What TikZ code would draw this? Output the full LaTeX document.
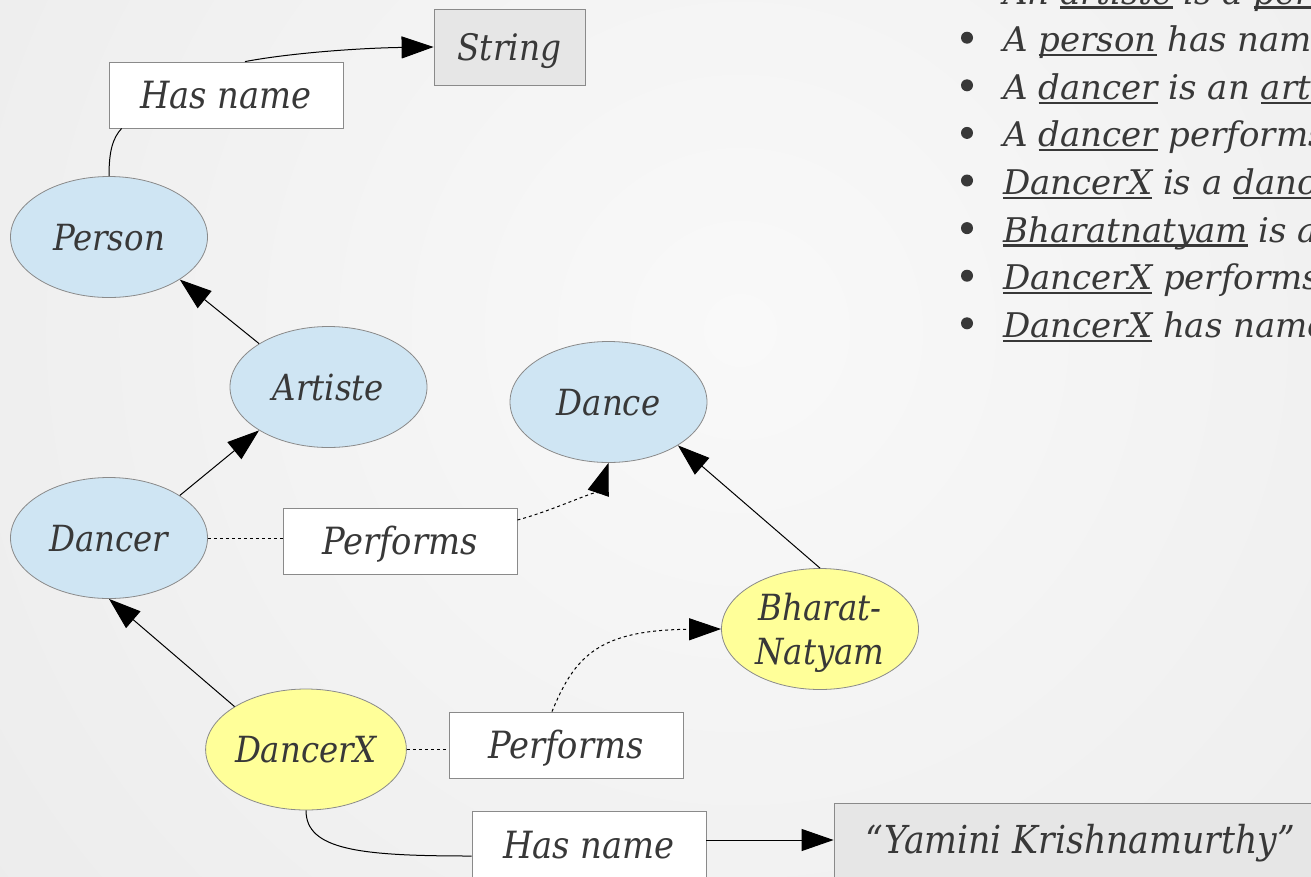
\documentclass[tikz,border=0pt]{standalone}
\usepackage{fontspec}
\usetikzlibrary{shapes.geometric,arrows.meta}
\setmainfont{DejaVu Serif}
\newfontfamily\graphfont{DejaVu Serif Condensed}
\definecolor{txt}{HTML}{383838}
\definecolor{clsblue}{HTML}{CFE5F3}
\definecolor{instyellow}{HTML}{FFFF99}
\definecolor{litgray}{HTML}{E6E6E6}
\definecolor{edgegray}{HTML}{8A8A8A}
\definecolor{bginner}{HTML}{F9F9F9}
\definecolor{bgouter}{HTML}{ECECEC}
% underline for the highlighted words of the bullet list
\newcommand\ulword[1]{\leavevmode\setbox0=\hbox{#1}\rlap{\color{txt}\rule[-4.5pt]{\wd0}{2.2pt}}\box0\relax}
\tikzset{
  gfont/.style={font=\graphfont\itshape\fontsize{#1}{44}\selectfont, text=txt},
  gfont/.default=36,
  cls/.style={ellipse, draw=edgegray, line width=0.8pt, fill=clsblue,
    minimum width=197pt, minimum height=121pt, inner sep=0pt, gfont},
  onel/.style={text height=26pt, text depth=0pt},
  inst/.style={cls, fill=instyellow},
  rel/.style={rectangle, draw=edgegray, line width=0.8pt, fill=white,
    minimum width=234pt, minimum height=66pt, inner sep=0pt, gfont=37.5, onel},
  lit/.style={rel, fill=litgray},
  link/.style={line width=1pt, draw=black},
  isa/.style={link, -{Triangle[length=32pt,width=22pt]}},
  dots/.style={link, dash pattern=on 3pt off 3pt},
  dotsarrow/.style={dots, -{Triangle[length=32pt,width=22pt]}},
  item/.style={anchor=base west, inner sep=0pt, text=txt,
    font=\itshape\fontsize{34}{40}\selectfont},
}
\begin{document}
\begin{tikzpicture}[x=1pt,y=-1pt]
\useasboundingbox (0,0) rectangle (1311,876);
% soft radial backdrop
\begin{scope}
  \clip (0,0) rectangle (1311,876);
  \shade[inner color=bginner, outer color=bgouter] (740,330) circle (950pt);
\end{scope}

% classes, instances, relations and literals
\node[lit, minimum width=151pt, minimum height=76pt, gfont=36.5] (string) at (509.5,47) {String};
\node[rel] (hn1) at (226,95) {Has name};
\node[cls, onel] (person) at (109,237) {Person};
\node[cls, onel] (artiste) at (328.5,387) {Artiste};
\node[cls, onel] (dance) at (608.5,402) {Dance};
\node[cls, onel] (dancer) at (109,538) {Dancer};
\node[rel] (perf1) at (400,541) {Performs};
\node[inst] (bharat) at (820,629) {};
\node[gfont, align=center, inner sep=0pt] (bharatlbl) at (820,633) {Bharat-\\Natyam};
\node[inst, onel] (dancerx) at (306,749.5) {DancerX};
\node[rel] (perf2) at (566,745) {Performs};
\node[rel, minimum height=68pt] (hn2) at (589,845) {Has name};
\node[lit, minimum width=492pt, minimum height=74pt, gfont=38.5] (yamini) at (1080,840) {“Yamini Krishnamurthy”};

% connectors
\draw[link] (person.north) .. controls (109,150) and (113,138) .. ([xshift=13pt]hn1.south west);
\draw[isa] ([xshift=19pt]hn1.north) .. controls (290,53) and (360,48) .. (string.west);
\draw[isa] (artiste.148) -- (person.-31);
\draw[isa] (dancer.31) -- (artiste.212);
\draw[dots] (dancer.east) -- (perf1.west |- dancer.east);
\draw[dotsarrow] ([yshift=21pt]perf1.east) .. controls (555,510) and (600,488) .. (dance.south);
\draw[isa] (bharat.north) -- (dance.-32);
\draw[isa] (dancerx.149) -- (dancer.south);
\draw[dots] (dancerx.east) -- (perf2.west |- dancerx.east);
\draw[dotsarrow] ([xshift=-14pt]perf2.north) .. controls (575,655) and (600,630) .. (bharat.west);
\draw[link] (dancerx.south) .. controls (306,850) and (360,856) .. ([yshift=-11pt]hn2.west);
\draw[isa] (hn2.east |- yamini.west) -- (yamini.west);

% bullet list of statements
\foreach \yy in {4.1, 51.7, 99.3, 146.9, 194.5, 242.1, 289.7, 337.3}
  \fill[txt] (967,\yy-14) circle (6pt);
\node[item] (b1) at (1003,4.1) {An \ulword{artiste} is a \ulword{person}};
\node[item] (b2) at (1003,51.7) {A \ulword{person} has name};
\node[item] (b3) at (1003,99.3) {A \ulword{dancer} is an \ulword{artiste}};
\node[item] (b4) at (1003,146.9) {A \ulword{dancer} performs \ulword{dance}};
\node[item] (b5) at (1003,194.5) {\ulword{DancerX} is a \ulword{dancer}};
\node[item] (b6) at (1003,242.1) {\ulword{Bharatnatyam} is a \ulword{dance}};
\node[item] (b7) at (1003,289.7) {\ulword{DancerX} performs \ulword{Bharatnatyam}};
\node[item] (b8) at (1003,337.3) {\ulword{DancerX} has name};
\end{tikzpicture}
\end{document}
